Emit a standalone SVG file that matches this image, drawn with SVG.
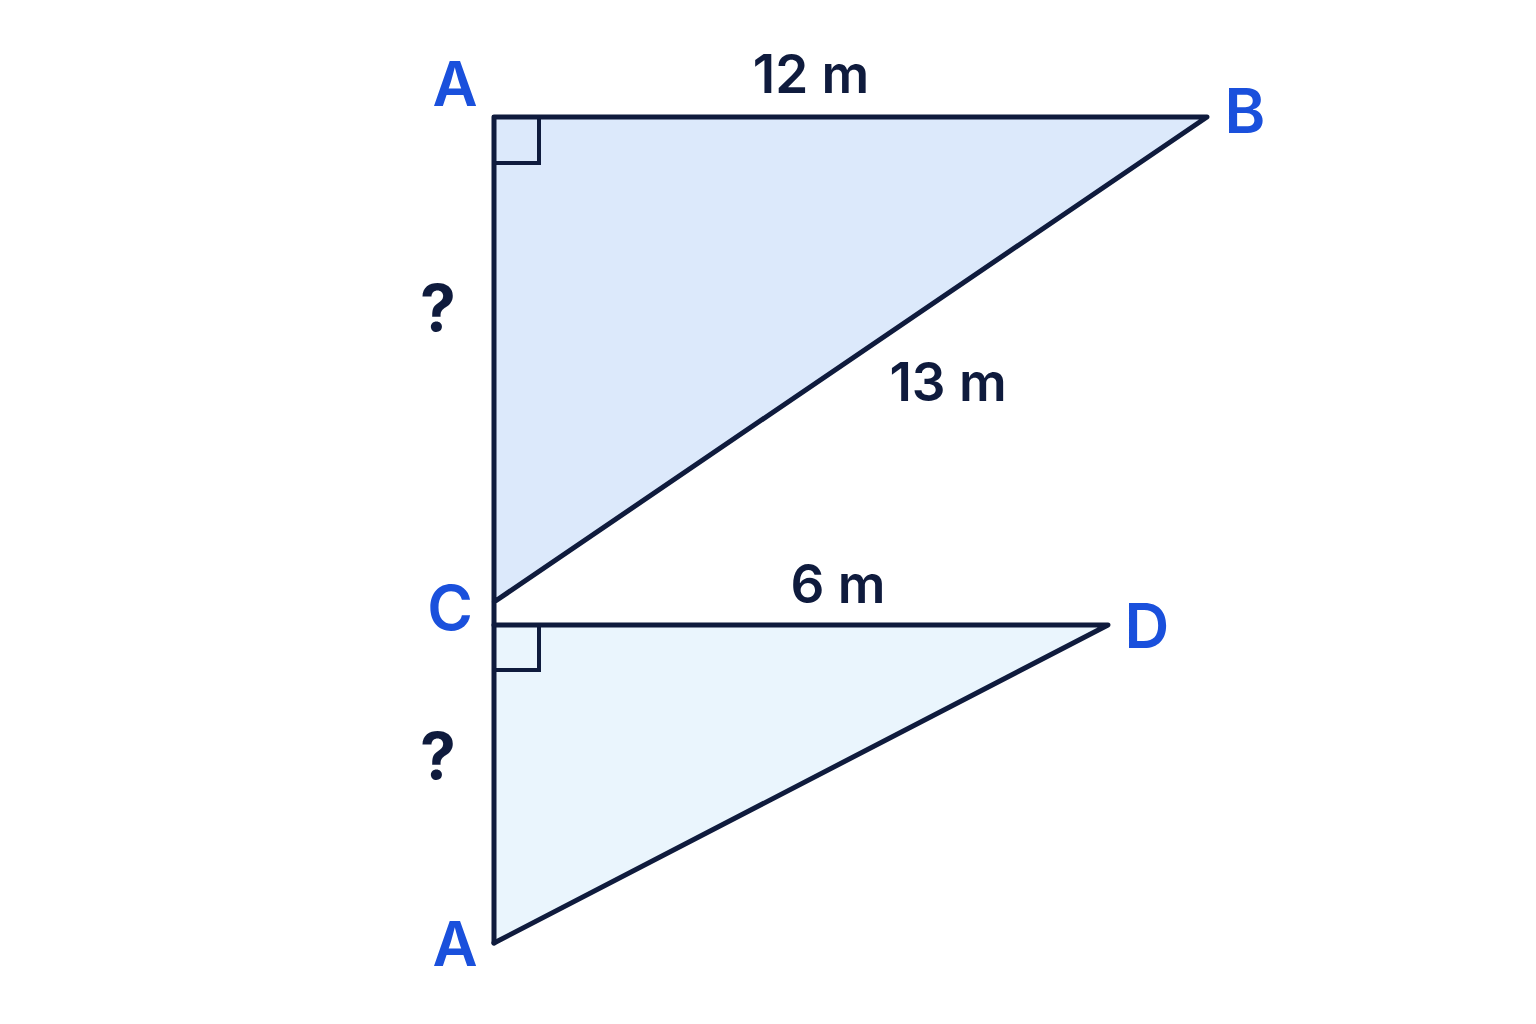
<svg xmlns="http://www.w3.org/2000/svg" width="1536" height="1024" viewBox="0 0 1536 1024">
<style>
.edge{fill:none;stroke:#0f1b3d;stroke-width:5;stroke-linejoin:round;stroke-linecap:round}
.mark{fill:none;stroke:#0f1b3d;stroke-width:4}
.vl{font-family:Inter,"Liberation Sans",sans-serif;font-weight:600;font-size:62px;fill:#1a50dc;text-anchor:middle}
.ml{font-family:Inter,"Liberation Sans",sans-serif;font-weight:600;font-size:53px;fill:#0f1b3d;text-anchor:middle}
.q{font-family:Inter,"Liberation Sans",sans-serif;font-weight:700;font-size:64px;fill:#0f1b3d;text-anchor:middle}
</style>
<rect width="1536" height="1024" fill="#ffffff"/>
<g id="triangle-ABC">
<polygon points="494,117 1207,117 494,602" fill="#dce9fb"/>
<rect class="mark" x="494" y="117" width="45" height="46"/>
</g>
<g id="triangle-CDA">
<polygon points="494,625 1108,625 494,943" fill="#eaf5fd"/>
<rect class="mark" x="494" y="625" width="45" height="45"/>
</g>
<g id="connectors">
<polyline class="edge" points="494,943 494,117 1207,117 494,602"/>
<polyline class="edge" points="494,625 1108,625 494,943"/>
</g>
<g id="labels">
<text class="vl" x="455" y="106">A</text>
<text class="vl" x="1245" y="133">B</text>
<text class="vl" x="450" y="630">C</text>
<text class="vl" x="1147" y="648">D</text>
<text class="vl" x="455" y="966">A</text>
<text class="ml" x="811" y="93">12 m</text>
<text class="ml" x="948" y="401">13 m</text>
<text class="ml" x="838" y="603">6 m</text>
<text class="q" x="438" y="331">?</text>
<text class="q" x="438" y="779">?</text>
</g>
</svg>
